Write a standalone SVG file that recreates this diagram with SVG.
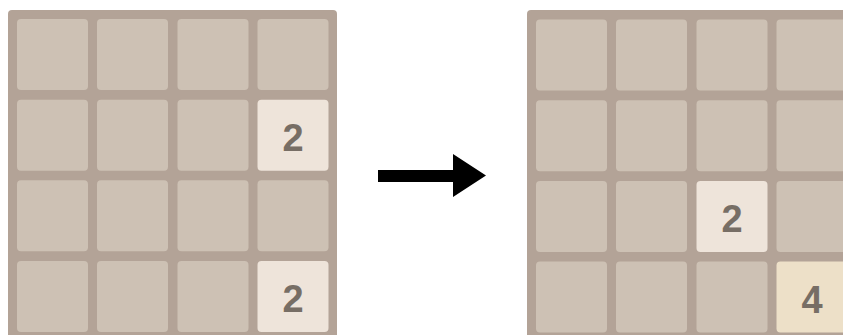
<svg xmlns="http://www.w3.org/2000/svg" width="843" height="335" viewBox="0 0 843 335">
<style>
.board{fill:#b3a397}
.t{fill:#cdc1b4}
.t2{fill:#eee4da}
.t4{fill:#ede0c8}
.num{font-family:"Liberation Sans",Arial,sans-serif;font-weight:bold;font-size:38px;fill:#776e65;text-anchor:middle}
</style>
<rect width="843" height="335" fill="#ffffff"/>
<g id="board-left">
<rect class="board" x="8" y="10" width="329" height="340" rx="4"/>
<rect class="t" x="17" y="19" width="71" height="71" rx="4"/>
<rect class="t" x="97" y="19" width="71" height="71" rx="4"/>
<rect class="t" x="177.5" y="19" width="71" height="71" rx="4"/>
<rect class="t" x="257.5" y="19" width="71" height="71" rx="4"/>
<rect class="t" x="17" y="99.7" width="71" height="71" rx="4"/>
<rect class="t" x="97" y="99.7" width="71" height="71" rx="4"/>
<rect class="t" x="177.5" y="99.7" width="71" height="71" rx="4"/>
<rect class="t2" x="257.5" y="99.7" width="71" height="71" rx="4"/>
<text class="num" x="293" y="151">2</text>
<rect class="t" x="17" y="180.3" width="71" height="71" rx="4"/>
<rect class="t" x="97" y="180.3" width="71" height="71" rx="4"/>
<rect class="t" x="177.5" y="180.3" width="71" height="71" rx="4"/>
<rect class="t" x="257.5" y="180.3" width="71" height="71" rx="4"/>
<rect class="t" x="17" y="261" width="71" height="71" rx="4"/>
<rect class="t" x="97" y="261" width="71" height="71" rx="4"/>
<rect class="t" x="177.5" y="261" width="71" height="71" rx="4"/>
<rect class="t2" x="257.5" y="261" width="71" height="71" rx="4"/>
<text class="num" x="293" y="312">2</text>
</g>
<g id="connectors">
<polygon points="378,170 453,170 453,154 486,175.5 453,197 453,182 378,182" fill="#000000"/>
</g>
<g id="board-right">
<rect class="board" x="527" y="10" width="329" height="340" rx="4"/>
<rect class="t" x="536" y="19.5" width="71" height="71" rx="4"/>
<rect class="t" x="616" y="19.5" width="71" height="71" rx="4"/>
<rect class="t" x="696.5" y="19.5" width="71" height="71" rx="4"/>
<rect class="t" x="776.5" y="19.5" width="71" height="71" rx="4"/>
<rect class="t" x="536" y="100.2" width="71" height="71" rx="4"/>
<rect class="t" x="616" y="100.2" width="71" height="71" rx="4"/>
<rect class="t" x="696.5" y="100.2" width="71" height="71" rx="4"/>
<rect class="t" x="776.5" y="100.2" width="71" height="71" rx="4"/>
<rect class="t" x="536" y="181" width="71" height="71" rx="4"/>
<rect class="t" x="616" y="181" width="71" height="71" rx="4"/>
<rect class="t2" x="696.5" y="181" width="71" height="71" rx="4"/>
<text class="num" x="732" y="232">2</text>
<rect class="t" x="776.5" y="181" width="71" height="71" rx="4"/>
<rect class="t" x="536" y="261.5" width="71" height="71" rx="4"/>
<rect class="t" x="616" y="261.5" width="71" height="71" rx="4"/>
<rect class="t" x="696.5" y="261.5" width="71" height="71" rx="4"/>
<rect class="t4" x="776.5" y="261.5" width="71" height="71" rx="4"/>
<text class="num" x="812" y="312.5">4</text>
</g>
</svg>
